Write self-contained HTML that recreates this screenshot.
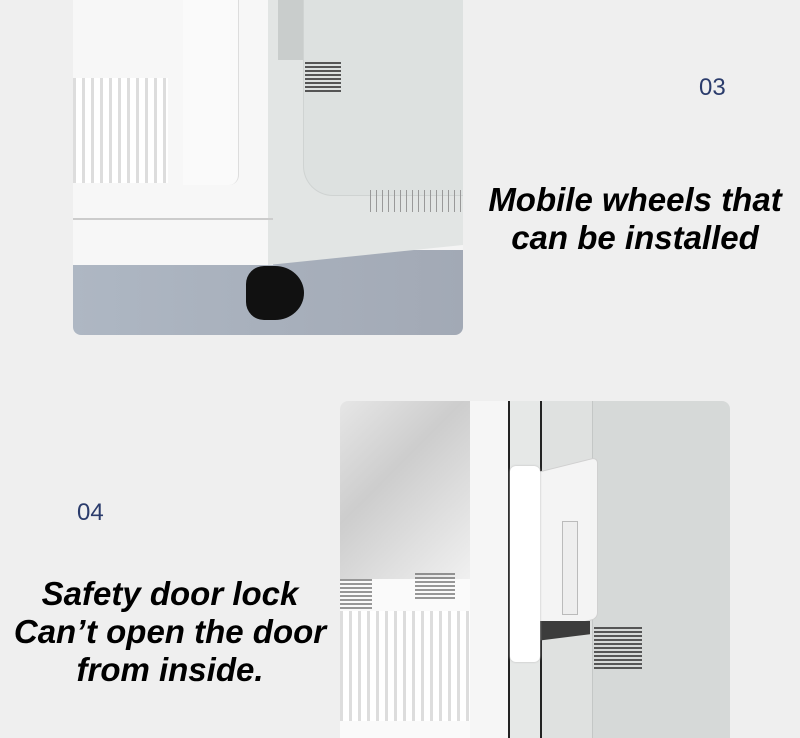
<!DOCTYPE html>
<html><head><meta charset="utf-8"><style>
body{margin:0;width:800px;height:738px;background:#efefef;position:relative;overflow:hidden;font-family:"Liberation Sans",sans-serif}
.a{position:absolute}
.t{position:absolute;font-weight:bold;font-style:italic;color:#000;font-size:33px;line-height:38px;text-align:center;white-space:nowrap}
.n{position:absolute;color:#2b3c6c;font-size:24px}
.vent{background:repeating-linear-gradient(180deg,#555 0 2px,transparent 2px 4px)}
.vv{background:repeating-linear-gradient(90deg,#ddd 0 3px,#fff 3px 9px)}
</style></head><body>
<!-- top image -->
<div class="a" style="left:73px;top:0;width:390px;height:335px;overflow:hidden;border-radius:0 0 8px 8px;background:#f4f4f4">
 <div class="a" style="left:0;top:250px;width:390px;height:85px;background:linear-gradient(90deg,#aeb7c3,#a2a9b5)"></div>
 <div class="a" style="left:0;top:0;width:200px;height:265px;background:#f7f7f7"></div>
 <div class="a" style="left:0;top:75px;width:95px;height:110px" class="vv"></div>
 <div class="a vv" style="left:0;top:78px;width:95px;height:105px"></div>
 <div class="a" style="left:110px;top:0;width:55px;height:185px;border-radius:0 0 10px 0;background:#fafafa;border-right:1px solid #ddd"></div>
 <div class="a" style="left:195px;top:0;width:195px;height:265px;background:#e2e5e4;clip-path:polygon(0 0,100% 0,100% 245px,0 265px)"></div>
 <div class="a" style="left:230px;top:0;width:160px;height:195px;border-radius:0 0 0 30px;border:1px solid #cfd3d2;border-top:none;border-right:none;background:#dde1e0"></div>
 <div class="a vent" style="left:232px;top:62px;width:36px;height:30px"></div>
 <div class="a" style="left:297px;top:190px;width:93px;height:22px;background:repeating-linear-gradient(90deg,#999 0 1px,transparent 1px 6px)"></div>
 <div class="a" style="left:205px;top:0;width:25px;height:60px;background:#c9cdcc"></div>
 <div class="a" style="left:0;top:218px;width:200px;height:2px;background:#ccc"></div>
 <div class="a" style="left:173px;top:266px;width:58px;height:54px;background:#111;border-radius:18px 50% 50% 18px"></div>
</div>
<div class="n" style="left:699px;top:74px">03</div>
<div class="t" style="left:460px;top:181px;width:350px">Mobile wheels that<br>can be installed</div>
<!-- bottom image -->
<div class="a" style="left:340px;top:401px;width:390px;height:337px;overflow:hidden;border-radius:8px 8px 0 0;background:#f4f4f4">
 <div class="a" style="left:0;top:0;width:130px;height:178px;background:linear-gradient(135deg,#e6e6e6,#cdcdcd 40%,#f0f0f0)"></div>
 <div class="a" style="left:0;top:178px;width:170px;height:159px;background:#fafafa"></div>
 <div class="a vent" style="left:0;top:178px;width:32px;height:30px;opacity:.6"></div>
 <div class="a vent" style="left:75px;top:172px;width:40px;height:28px;opacity:.6"></div>
 <div class="a vv" style="left:0;top:210px;width:130px;height:110px"></div>
 <div class="a" style="left:130px;top:0;width:38px;height:337px;background:#f6f6f6"></div>
 <div class="a" style="left:168px;top:0;width:2px;height:337px;background:#222"></div>
 <div class="a" style="left:170px;top:0;width:30px;height:337px;background:#e6e8e7"></div>
 <div class="a" style="left:200px;top:0;width:2px;height:337px;background:#222"></div>
 <div class="a" style="left:202px;top:0;width:50px;height:337px;background:#dfe1e0"></div>
 <div class="a" style="left:252px;top:0;width:138px;height:337px;background:#d6d9d8;border-left:1px solid #c4c7c6"></div>
 <div class="a vent" style="left:254px;top:226px;width:48px;height:42px"></div>
 <div class="a" style="left:176px;top:66px;width:80px;height:160px;background:#f4f4f4;border:1px solid #d0d0d0;border-radius:6px;transform:skewY(-14deg)"></div>
 <div class="a" style="left:180px;top:220px;width:70px;height:22px;background:#3c3c3c;clip-path:polygon(20% 0,100% 0,100% 60%,0 100%)"></div>
 <div class="a" style="left:170px;top:65px;width:30px;height:196px;background:#fff;border-radius:6px;box-shadow:0 0 2px #bbb"></div>
 <div class="a" style="left:222px;top:120px;width:14px;height:92px;background:#eee;border:1px solid #bbb"></div>
</div>
<div class="n" style="left:77px;top:499px">04</div>
<div class="t" style="left:0;top:575px;width:340px">Safety door lock<br>Can’t open the door<br>from inside.</div>
</body></html>
